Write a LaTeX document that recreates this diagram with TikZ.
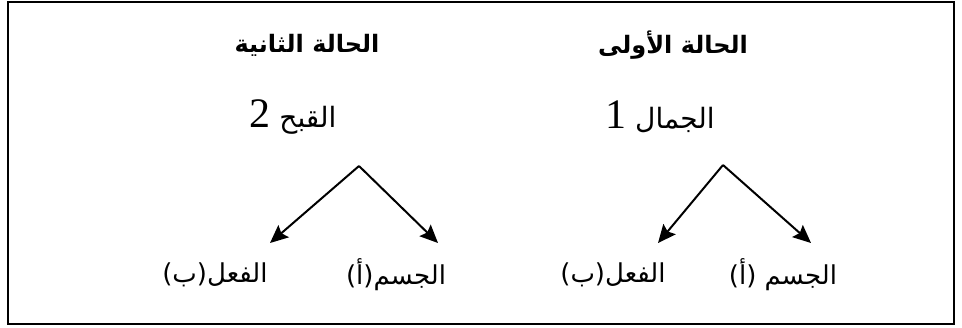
\documentclass[tikz,border=0pt]{standalone}
\usepackage{fontspec}
\setmainfont{Liberation Serif}
\newfontfamily\arabicfont[Script=Arabic]{DejaVu Sans}
\newfontfamily\numfont{Liberation Serif}
\TeXXeTstate=1
\usetikzlibrary{arrows.meta,positioning}

\begin{document}
\begin{tikzpicture}[
		x=0.5pt, y=-0.5pt,
		>={Stealth[length=9pt,width=8pt,inset=1.5pt]},
		casetitle/.style={font=\arabicfont\bfseries\fontsize{12}{14}\selectfont, inner sep=0pt},
		quality/.style={font=\arabicfont\fontsize{14}{16}\selectfont, inner sep=0pt},
		leaf/.style={font=\arabicfont\fontsize{13}{15}\selectfont, inner sep=0pt},
		branch/.style={->, line width=1pt},
	]

	\useasboundingbox (0,0) rectangle (962,327);
	\draw[line width=1pt] (8,1.5) rectangle (954,323.5);

	% second case (left)
	\node[casetitle] (casetwo) at (307,45) {\beginR الحالة الثانية\endR};
	\node[quality] (ugly) at (293,117) {\beginR القبح {\numfont\fontsize{21}{22}\selectfont 2}\endR};
	\coordinate (uglytop) at (359,166);
	\coordinate (uglyleft) at (270,243);
	\coordinate (uglyright) at (438,243);
	\node[leaf] (uglyact) at (215,275) {\beginR الفعل(ب)\endR};
	\node[leaf] (uglybody) at (396,275) {\beginR الجسم(أ)\endR};

	\draw[branch] (uglytop) -- (uglyleft);
	\draw[branch] (uglytop) -- (uglyright);

	% first case (right)
	\node[casetitle] (caseone) at (673,45) {\beginR الحالة الأولى\endR};
	\node[quality] (beauty) at (660,117) {\beginR الجمال {\numfont\fontsize{21}{22}\selectfont 1}\endR};
	\coordinate (beautytop) at (723,165);
	\coordinate (beautyleft) at (658,243);
	\coordinate (beautyright) at (811,243);
	\node[leaf] (beautyact) at (613,275) {\beginR الفعل(ب)\endR};
	\node[leaf] (beautybody) at (783,275) {\beginR الجسم (أ)\endR};

	\draw[branch] (beautytop) -- (beautyleft);
	\draw[branch] (beautytop) -- (beautyright);

\end{tikzpicture}
\end{document}
